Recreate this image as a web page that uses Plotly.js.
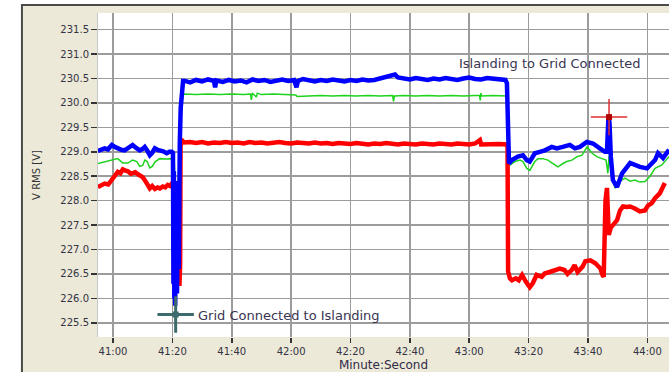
<!DOCTYPE html>
<html>
<head>
<meta charset="utf-8">
<script src="https://cdn.plot.ly/plotly-3.0.1.min.js"></script>
<style>
html,body{margin:0;padding:0;background:#ffffff;}
#chart{width:669px;height:372px;}
</style>
</head>
<body>
<div id="chart"></div>
<script>
// Time in seconds after 40:00 (e.g. 60 = 41:00)
var blueTime = [54.9,56.0,57.2,58.3,59.6,60.6,61.6,62.8,63.9,65.2,66.6,67.8,69.0,70.0,70.7,71.6,72.4,73.2,74.1,75.0,75.7,76.9,78.1,79.0,79.8,80.2,80.35,80.5,80.65,80.8,80.95,81.1,81.25,81.4,81.55,81.7,81.85,82.0,82.15,82.3,82.5,82.8,83.2,83.6,84.2,
  86,88,90,92,94,94.4,94.8,97,99,101,103,105,107,109,111,113,115,117,119,121,121.8,122.3,124,126,128,130,132,134,136,138,140,142,144,146,148,150,152,154,155,156,158,160,162,164,166,168,170,172,174,176,178,180,182,184,186,188,190,192.2,192.7,
  193.0,193.2,193.4,194.4,196.4,198.1,199.4,200.4,202.1,203.8,205.5,207.8,209.5,211.5,213.9,215.6,217.3,219.6,221.7,224.0,225.7,226.4,226.9,227.25,227.7,228.4,229.8,231.5,234.2,237.5,239.9,242.6,243.6,245.3,247.3];
var blueVolt = [229.02,229.05,229.07,229.05,229.14,229.10,229.07,229.04,229.03,229.08,229.14,229.08,229.03,229.06,229.10,229.02,228.93,228.98,229.07,229.04,229.03,229.01,228.97,229.00,229.00,228.98,226.3,228.6,226.0,228.2,225.85,227.9,225.9,227.6,226.1,228.0,226.3,228.4,226.6,228.8,229.2,229.9,230.35,230.45,230.45,
  230.42,230.47,230.44,230.48,230.45,230.32,230.46,230.43,230.47,230.44,230.46,230.42,230.48,230.45,230.47,230.43,230.46,230.48,230.45,230.47,230.32,230.45,230.49,230.46,230.44,230.47,230.45,230.48,230.46,230.44,230.47,230.45,230.48,230.46,230.47,230.50,230.52,230.55,230.58,230.52,230.50,230.48,230.51,230.49,230.47,230.50,230.48,230.51,230.49,230.47,230.50,230.52,230.49,230.48,230.51,230.49,230.48,230.47,230.40,
  229.6,228.8,228.76,228.83,228.90,228.93,228.83,228.80,228.97,229.00,229.03,229.10,229.07,229.10,229.14,229.07,229.10,229.20,229.17,229.07,229.00,229.00,229.72,229.60,228.90,228.42,228.28,228.56,228.77,228.69,228.66,228.83,228.97,228.87,229.04];

var greenTime = [54.9,57.2,59.6,61.6,63.3,65.0,66.6,68.0,69.0,70.0,70.7,71.5,72.4,73.2,74.1,75.7,78.0,79.8,80.6,81.5,82.6,83.5,
  84,88,92,96,100,104,106.3,106.6,106.9,108.3,108.6,110,114,118,121.6,122,126,130,134,138,142,146,150,154.2,154.5,154.8,158,162,166,170,174,178,182,183.5,183.7,183.9,184.2,188,192.6,
  193.0,193.3,193.7,195.4,197.1,198.1,199.4,200.4,202.1,203.1,204.8,206.5,208.2,209.9,211.6,212.9,214.6,216.3,218.0,219.7,221.4,223.0,224.7,226.1,226.7,227.1,228.1,229.1,230.8,232.5,234.2,235.8,237.5,239.2,240.9,242.6,244.9,247.3];
var greenVolt = [228.76,228.79,228.83,228.86,228.77,228.77,228.83,228.80,228.70,228.72,228.83,228.80,228.67,228.70,228.79,228.86,228.85,228.86,228.80,227.6,229.5,230.15,
  230.18,230.17,230.18,230.17,230.18,230.17,230.18,230.06,230.20,230.12,230.20,230.17,230.18,230.17,230.16,230.13,230.14,230.15,230.14,230.15,230.14,230.15,230.14,230.15,230.03,230.14,230.15,230.14,230.15,230.14,230.15,230.14,230.15,230.15,230.05,230.20,230.14,230.15,230.14,
  229.0,228.72,228.73,228.80,228.83,228.80,228.66,228.62,228.80,228.86,228.86,228.83,228.76,228.69,228.76,228.80,228.83,228.90,228.93,229.10,228.97,228.90,228.86,228.83,228.56,228.90,228.50,228.26,228.40,228.46,228.40,228.42,228.38,228.39,228.50,228.66,228.73,228.90];

var redTime = [54.9,56.0,57.2,58.4,59.6,60.6,61.6,62.5,63.3,64.0,65.0,66.0,66.6,67.5,68.4,69.0,70.0,70.7,71.5,72.4,73.2,74.1,75.0,75.8,76.8,77.6,78.4,79.2,79.8,80.3,81.0,81.8,82.4,82.6,82.75,83.0,
  84,86,88,90,92,94,96,98,100,102,104,106,108,110,112,114,116,118,120,122,124,126,128,130,132,134,136,138,140,142,144,146,148,150,152,154,156,158,160,162,164,166,168,170,172,174,176,178,180,182,183.6,184,186,188,190,192.6,192.9,
  193.1,193.7,194.4,195.7,196.7,197.8,199.1,200.4,201.4,202.7,204.4,205.4,207.1,208.8,210.5,212.1,213.1,214.5,215.5,216.5,218.2,219.1,220.8,222.5,224.2,224.9,225.3,225.9,226.4,227.0,227.7,228.4,229.1,229.8,230.8,231.8,233.1,234.2,235.8,237.5,239.2,240.2,241.5,242.6,244.2,245.9,247.3];
var redVolt = [228.28,228.31,228.35,228.33,228.42,228.50,228.59,228.56,228.64,228.62,228.60,228.55,228.56,228.58,228.54,228.52,228.48,228.42,228.35,228.25,228.30,228.24,228.27,228.25,228.29,228.27,228.32,228.30,228.35,228.30,227.0,226.30,226.30,226.70,229.10,229.25,
  229.19,229.20,229.18,229.20,229.17,229.19,229.18,229.20,229.18,229.19,229.17,229.20,229.18,229.19,229.17,229.18,229.20,229.18,229.17,229.19,229.18,229.17,229.19,229.17,229.18,229.16,229.18,229.17,229.16,229.18,229.17,229.15,229.17,229.16,229.18,229.16,229.15,229.17,229.16,229.15,229.17,229.16,229.15,229.17,229.16,229.15,229.17,229.16,229.15,229.17,229.24,229.15,229.16,229.15,229.16,229.15,229.10,
  226.55,226.41,226.37,226.41,226.37,226.48,226.34,226.23,226.31,226.48,226.44,226.51,226.54,226.58,226.61,226.58,226.50,226.58,226.68,226.54,226.65,226.76,226.78,226.72,226.61,226.48,226.44,228.00,228.26,227.30,227.45,227.50,227.54,227.60,227.80,227.88,227.87,227.88,227.84,227.78,227.80,227.90,227.95,228.05,228.15,228.36];

var eventTime = [81.1, 227.1];
var eventVolt = [225.67, 229.71];
var eventLabels = ["Grid Connected to Islanding", "Islanding to Grid Connected"];
var labelTime = [87.9, 175.8];
var labelVolt = [225.66, 230.81];

var xTickVals = [60,80,100,120,140,160,180,200,220,240];
var xTickText = ["41:00","41:20","41:40","42:00","42:20","42:40","43:00","43:20","43:40","44:00"];
var yTickVals = [225.5,226.0,226.5,227.0,227.5,228.0,228.5,229.0,229.5,230.0,230.5,231.0,231.5];
var yTickText = ["225.5","226.0","226.5","227.0","227.5","228.0","228.5","229.0","229.5","230.0","230.5","231.0","231.5"];

var traces = [
  {x: greenTime, y: greenVolt, type: 'scatter', mode: 'lines', line: {color: '#1ed21e', width: 1.5}, hoverinfo: 'skip'},
  {x: redTime, y: redVolt, type: 'scatter', mode: 'lines', line: {color: '#ff0000', width: 4.5}, hoverinfo: 'skip'},
  {x: blueTime, y: blueVolt, type: 'scatter', mode: 'lines', line: {color: '#0000ff', width: 4.5}, hoverinfo: 'skip'},
  {x: [eventTime[0]], y: [eventVolt[0]], type: 'scatter', mode: 'markers',
   marker: {symbol: 'cross-thin', size: 26, line: {color: '#3d6a6a', width: 3}}, hoverinfo: 'skip'},
  {x: [eventTime[0]], y: [eventVolt[0]], type: 'scatter', mode: 'markers',
   marker: {symbol: 'square', size: 6, color: '#3d6a6a'}, hoverinfo: 'skip'},
  {x: [eventTime[1]], y: [eventVolt[1]], type: 'scatter', mode: 'markers',
   marker: {symbol: 'cross-thin', size: 26, line: {color: '#e03030', width: 1.5}}, hoverinfo: 'skip'},
  {x: [eventTime[1]], y: [eventVolt[1]], type: 'scatter', mode: 'markers',
   marker: {symbol: 'square', size: 6, color: '#b00000'}, hoverinfo: 'skip'}
];

var fontFam = 'DejaVu Sans, Verdana, sans-serif';
var layout = {
  width: 669, height: 372,
  margin: {l: 98, r: 0, t: 13, b: 35, pad: 0},
  paper_bgcolor: '#ece9d8',
  plot_bgcolor: '#ffffff',
  showlegend: false,
  font: {family: fontFam, size: 10, color: '#333333'},
  xaxis: {
    range: [54.94, 247.3],
    tickvals: xTickVals, ticktext: xTickText,
    showgrid: true, gridcolor: '#9c9c9c', gridwidth: 1.5,
    zeroline: false, showline: false,
    ticks: 'outside', ticklen: 5, tickwidth: 1.5, tickcolor: '#333333',
    tickfont: {family: fontFam, size: 10, color: '#333344'},
    title: {text: 'Minute:Second', font: {family: fontFam, size: 12, color: '#302a48'}, standoff: 8},
    fixedrange: true
  },
  yaxis: {
    range: [225.21, 231.84],
    tickvals: yTickVals, ticktext: yTickText,
    showgrid: true, gridcolor: '#9c9c9c', gridwidth: 1.5,
    zeroline: false, showline: true, linecolor: '#c8c8c8', linewidth: 1,
    ticks: 'outside', ticklen: 6, tickwidth: 1.5, tickcolor: '#333333',
    tickfont: {family: fontFam, size: 10, color: '#333344'},
    title: {text: 'V RMS [V]', font: {family: fontFam, size: 10, color: '#333333'}, standoff: 17},
    fixedrange: true
  },
  shapes: [
    {type: 'rect', xref: 'paper', yref: 'paper', x0: -0.4, x1: -0.1349, y0: -0.3, y1: 1.2,
     fillcolor: '#ffffff', line: {width: 0}, layer: 'below'},
    {type: 'rect', xref: 'paper', yref: 'paper', x0: -0.4, x1: 1.2, y0: 1.0278, y1: 1.2,
     fillcolor: '#ffffff', line: {width: 0}, layer: 'below'},
    {type: 'rect', xref: 'paper', yref: 'paper', x0: -0.1332, x1: 1.3, y0: -0.3, y1: 1.0247,
     fillcolor: 'rgba(0,0,0,0)', line: {color: '#4a4a4a', width: 2}, layer: 'below'}
  ],
  annotations: [
    {x: labelTime[0], y: labelVolt[0], xref: 'x', yref: 'y', text: eventLabels[0], showarrow: false,
     xanchor: 'left', yanchor: 'middle', font: {family: fontFam, size: 13, color: '#3a3552'}},
    {x: labelTime[1], y: labelVolt[1], xref: 'x', yref: 'y', text: eventLabels[1], showarrow: false,
     xanchor: 'left', yanchor: 'middle', font: {family: fontFam, size: 13, color: '#3a3552'}}
  ]
};

Plotly.newPlot('chart', traces, layout, {displayModeBar: false, staticPlot: true});
</script>
</body>
</html>
